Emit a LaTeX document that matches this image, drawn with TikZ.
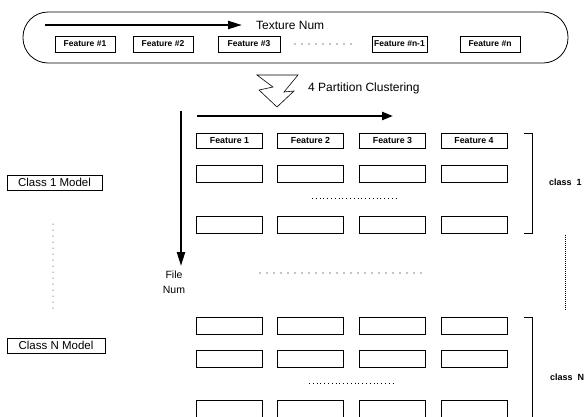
\documentclass[tikz,border=0pt]{standalone}
\usepackage{fontspec}
\setmainfont{Liberation Sans}
\usetikzlibrary{arrows.meta}
\begin{document}
\begin{tikzpicture}[x=1pt,y=-1pt,
  fbox/.style={draw, line width=0.75pt, inner sep=0pt, font=\bfseries\fontsize{8.5}{10}\selectfont},
  gbox/.style={draw, line width=0.75pt, inner sep=0pt, minimum width=66, minimum height=15, font=\bfseries\fontsize{8.8}{10}\selectfont},
  cell/.style={draw, line width=0.75pt, inner sep=0pt, minimum width=66, minimum height=17},
  bigarrow/.style={line width=2.3pt, -{Triangle[length=14pt,width=8pt]}},
  lbl/.style={inner sep=0pt, font=\fontsize{12}{14}\selectfont},
  sparse/.style={line width=1.2pt, line cap=round, dash pattern=on 0pt off 7pt},
  dense/.style={line width=0.9pt, dash pattern=on 0.8pt off 3pt},
  fine/.style={line width=0.8pt, dash pattern=on 0.6pt off 1.4pt},
  bracket/.style={line width=0.75pt},
  model/.style={draw, line width=0.75pt, inner sep=0pt, minimum height=15, font=\fontsize{11.5}{13}\selectfont},
  clbl/.style={inner sep=0pt, anchor=west, font=\bfseries\fontsize{9}{11}\selectfont}]
\useasboundingbox (0,0) rectangle (584,416);
\clip (0,0) rectangle (584,416);

% top container
\node[draw, line width=0.8pt, rounded corners=25pt, minimum width=545, minimum height=51, inner sep=0pt] (cont) at (295.5,37.5) {};
\coordinate (ta0) at (45,25);
\coordinate (ta1) at (242,25);
\draw[bigarrow] (ta0) -- (ta1);
\node[lbl, anchor=west] (tnum) at (256,25) {Texture Num};

\node[fbox, minimum width=60, minimum height=16] (f1) at (85,44) {Feature \#1};
\node[fbox, minimum width=60, minimum height=16] (f2) at (163,44) {Feature \#2};
\node[fbox, minimum width=62, minimum height=16] (f3) at (249,44) {Feature \#3};
\node[fbox, minimum width=55, minimum height=16] (fn1) at (399.5,44) {Feature \#n-1};
\node[fbox, minimum width=60, minimum height=16] (fn) at (490,44) {Feature \#n};
\coordinate (td0) at (295,44);
\coordinate (td1) at (354,44);
\draw[sparse] (td0) -- (td1);

% hollow arrow
\draw[line width=0.6pt, line join=miter]
  (257,75) -- (298,75) -- (284,92) -- (294,91) -- (277,107) -- (259,90) -- (273,87) -- cycle;
\node[lbl, anchor=west] (part) at (308,88) {4 Partition Clustering};

% main axes
\coordinate (ha0) at (197,116);
\coordinate (ha1) at (393,116);
\draw[line width=2.3pt, -{Triangle[length=11pt,width=8pt]}] (ha0) -- (ha1);
\coordinate (va0) at (181,111);
\coordinate (va1) at (181,266);
\draw[bigarrow] (va0) -- (va1);
\node[inner sep=0pt, align=center, font=\fontsize{10.5}{15}\selectfont] (fnum) at (174,282.5) {File\\Num};

% grid
\foreach \c/\x in {1/229.5,2/310.5,3/392.5,4/474}{
  \node[gbox] (h\c) at (\x,140.5) {Feature \c};
  \node[cell] (a\c) at (\x,173.5) {};
  \node[cell] (b\c) at (\x,224.5) {};
  \node[cell] (c\c) at (\x,325.5) {};
  \node[cell] (d\c) at (\x,358.5) {};
  \node[cell] (e\c) at (\x,408.5) {};
}
\coordinate (g1a) at (312,198);
\coordinate (g1b) at (398,198);
\draw[dense] (g1a) -- (g1b);
\coordinate (gma) at (260,273);
\coordinate (gmb) at (424,273);
\draw[sparse] (gma) -- (gmb);
\coordinate (g2a) at (309,383);
\coordinate (g2b) at (396,383);
\draw[dense] (g2a) -- (g2b);

% brackets
\coordinate (k1a) at (524,133);
\coordinate (k1b) at (532,133);
\coordinate (k1c) at (532,233);
\coordinate (k1d) at (524,233);
\draw[bracket] (k1a) -- (k1b) -- (k1c) -- (k1d);
\node[clbl] (cl1) at (549,182) {class\ \ 1};
\coordinate (kna) at (524,317);
\coordinate (knb) at (532,317);
\coordinate (knc) at (532,420);
\draw[bracket] (kna) -- (knb) -- (knc);
\node[clbl] (cln) at (550,377) {class\ \ N};
\coordinate (rv0) at (565,235);
\coordinate (rv1) at (565,310);
\draw[fine] (rv0) -- (rv1);

% left models
\node[model, minimum width=95] (m1) at (54.5,182.5) {Class 1 Model};
\node[model, minimum width=98] (mn) at (56,345.5) {Class N Model};
\coordinate (lv0) at (53,224);
\coordinate (lv1) at (53,309);
\draw[line width=1pt, line cap=round, dash pattern=on 0pt off 6pt] (lv0) -- (lv1);
\end{tikzpicture}
\end{document}
